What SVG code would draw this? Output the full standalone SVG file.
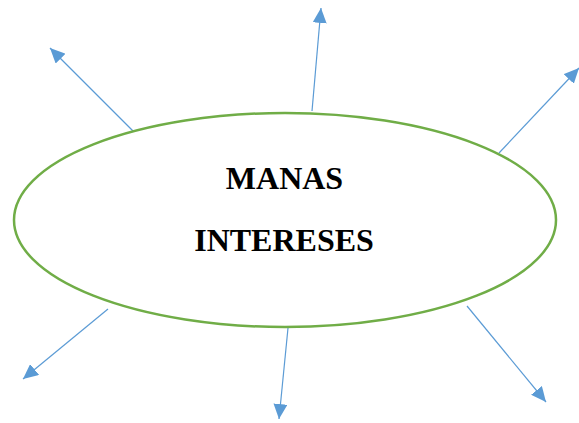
<svg xmlns="http://www.w3.org/2000/svg" width="579" height="423" viewBox="0 0 579 423">
<style>
.c{stroke:#5B9BD5;stroke-width:1.2;fill:none;marker-end:url(#ah)}
.t{font-family:"Liberation Serif",serif;font-weight:bold;font-size:32px;fill:#000;text-anchor:middle}
</style>
<defs>
<marker id="ah" markerUnits="userSpaceOnUse" markerWidth="16" markerHeight="14" refX="15" refY="7" orient="auto">
<path d="M0,0 L15,7 L0,14 Z" fill="#5B9BD5"/>
</marker>
</defs>
<rect width="579" height="423" fill="#fff"/>
<g id="connectors">
<line class="c" x1="133" y1="131" x2="50" y2="48"/>
<line class="c" x1="312" y1="111" x2="321" y2="8"/>
<line class="c" x1="499" y1="153" x2="579" y2="68"/>
<line class="c" x1="108" y1="309" x2="23" y2="379"/>
<line class="c" x1="288" y1="328" x2="279" y2="419"/>
<line class="c" x1="467" y1="306" x2="546" y2="402"/>
</g>
<g id="center">
<ellipse cx="285" cy="220" rx="271" ry="107" fill="#fff" stroke="#70AD47" stroke-width="2.5"/>
<text class="t" x="284.5" y="189">MANAS</text>
<text class="t" x="284" y="251">INTERESES</text>
</g>
</svg>
